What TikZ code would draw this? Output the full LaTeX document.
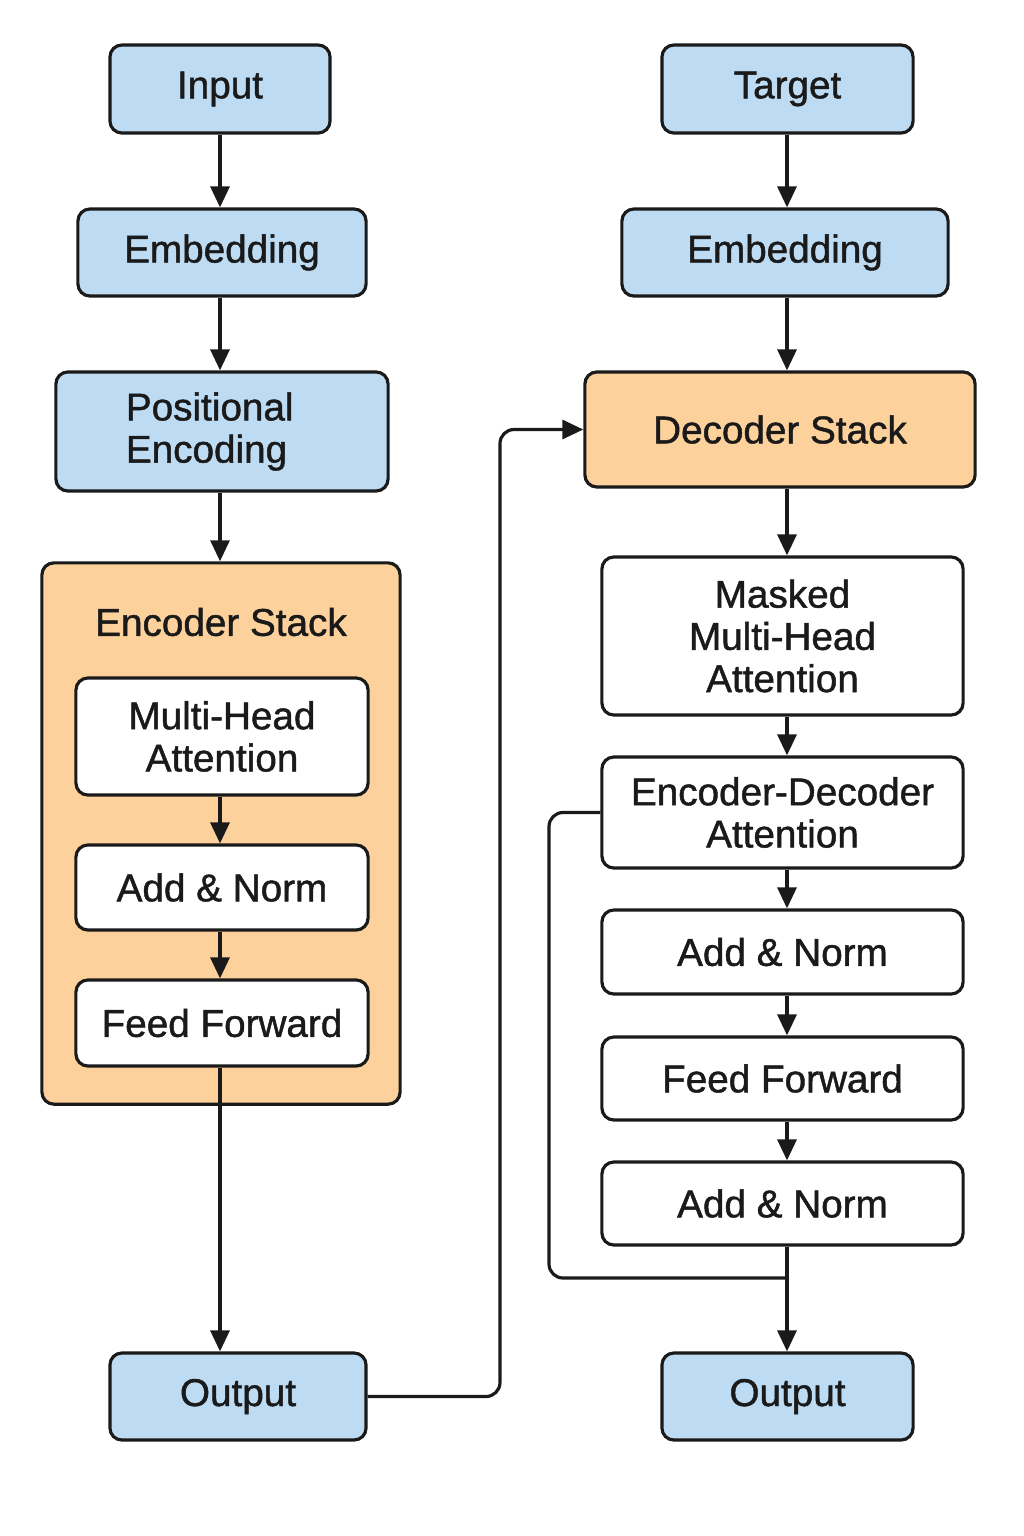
\documentclass[tikz,border=0pt]{standalone}
\usepackage{fontspec}
\setmainfont{Liberation Sans}[FakeBold=1.2,AutoFakeBold=1.2]
\usetikzlibrary{arrows.meta}
\definecolor{boxblue}{HTML}{BDDCF3}
\definecolor{stackorange}{HTML}{FDD19B}
\definecolor{ink}{HTML}{1A1A1A}
\begin{document}
\begin{tikzpicture}[x=0.01cm,y=-0.01cm]
\tikzset{
  blk/.style={draw=ink, line width=0.9pt, rounded corners=0.12cm, align=center, inner sep=0pt,
    font=\fontsize{11}{12}\selectfont\bfseries, text=ink},
  bluebox/.style={blk, fill=boxblue},
  orangebox/.style={blk, fill=stackorange},
  whitebox/.style={blk, fill=white},
  arr/.style={draw=ink, line width=0.9pt, -{Triangle[width=0.19cm,length=0.21cm]}},
  link/.style={draw=ink, line width=0.9pt, rounded corners=0.14cm},
}
\useasboundingbox (0,0) rectangle (1024,1536);
\coordinate (lc) at (220,0);
\coordinate (rc) at (787,0);
% encoder side
\node[bluebox, minimum width=2.20cm, minimum height=0.88cm] (inp) at (220,89) {Input};
\node[bluebox, minimum width=2.88cm, minimum height=0.87cm] (emb1) at (222,252.5) {Embedding};
\node[bluebox, minimum width=3.32cm, minimum height=1.19cm, align=left] (pos) at (222,431.5) {Positional\\Encoding\hspace*{0.8em}};
\node[orangebox, minimum width=3.58cm, minimum height=5.41cm] (encstack) at (221,833.5) {};
\node[blk, draw=none] (enctitle) at (221,622) {Encoder Stack};
\node[whitebox, minimum width=2.92cm, minimum height=1.17cm] (mha) at (222,736.5) {Multi-Head\\Attention};
\node[whitebox, minimum width=2.92cm, minimum height=0.85cm] (an1) at (222,887.5) {Add \& Norm};
\node[whitebox, minimum width=2.92cm, minimum height=0.86cm] (ff1) at (222,1023) {Feed Forward};
\node[bluebox, minimum width=2.56cm, minimum height=0.87cm] (outl) at (238,1396.5) {Output};
% decoder side
\node[bluebox, minimum width=2.51cm, minimum height=0.88cm] (tgt) at (787.5,89) {Target};
\node[bluebox, minimum width=3.26cm, minimum height=0.87cm] (emb2) at (785,252.5) {Embedding};
\node[orangebox, minimum width=3.90cm, minimum height=1.15cm] (dec) at (780,429.5) {Decoder Stack};
\node[whitebox, minimum width=3.61cm, minimum height=1.58cm] (mmha) at (782.5,636) {Masked\\Multi-Head\\Attention};
\node[whitebox, minimum width=3.61cm, minimum height=1.11cm] (encdec) at (782.5,812.5) {Encoder-Decoder\\Attention};
\node[whitebox, minimum width=3.61cm, minimum height=0.84cm] (an2) at (782.5,952) {Add \& Norm};
\node[whitebox, minimum width=3.61cm, minimum height=0.83cm] (ff2) at (782.5,1078.5) {Feed Forward};
\node[whitebox, minimum width=3.61cm, minimum height=0.83cm] (an3) at (782.5,1203.5) {Add \& Norm};
\node[bluebox, minimum width=2.51cm, minimum height=0.87cm] (outr) at (787.5,1396.5) {Output};
\coordinate (bend) at (500,429.5);
\coordinate (skip) at (549,1278);
\draw[arr] (inp.south -| lc) -- (emb1.north -| lc);
\draw[arr] (emb1.south -| lc) -- (pos.north -| lc);
\draw[arr] (pos.south -| lc) -- (encstack.north -| lc);
\draw[arr] (mha.south -| lc) -- (an1.north -| lc);
\draw[arr] (an1.south -| lc) -- (ff1.north -| lc);
\draw[arr] (ff1.south -| lc) -- (outl.north -| lc);
\draw[arr] (tgt.south -| rc) -- (emb2.north -| rc);
\draw[arr] (emb2.south -| rc) -- (dec.north -| rc);
\draw[arr] (dec.south -| rc) -- (mmha.north -| rc);
\draw[arr] (mmha.south -| rc) -- (encdec.north -| rc);
\draw[arr] (encdec.south -| rc) -- (an2.north -| rc);
\draw[arr] (an2.south -| rc) -- (ff2.north -| rc);
\draw[arr] (ff2.south -| rc) -- (an3.north -| rc);
\draw[arr] (an3.south -| rc) -- (outr.north -| rc);
\draw[link] (encdec.west) -| (skip) -- (skip -| rc);
\draw[link, -{Triangle[width=0.19cm,length=0.21cm]}] (outl.east) -| (bend) -- (dec.west);
\end{tikzpicture}
\end{document}
